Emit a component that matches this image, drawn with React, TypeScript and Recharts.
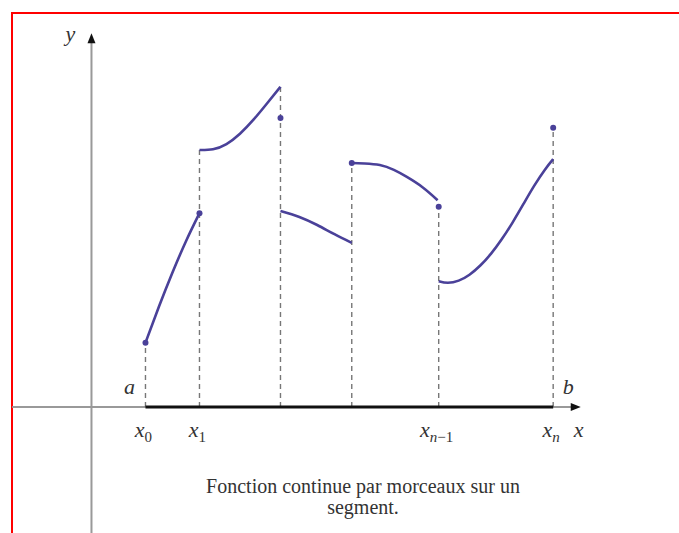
import React from "react";
import {
  ComposedChart,
  Line,
  Scatter,
  XAxis,
  YAxis,
  ReferenceLine,
  ReferenceDot,
} from "recharts";

// plot window in math units (origin sits where the axes cross)
const X_DOMAIN: [number, number] = [-1.694, 10.88];
const Y_DOMAIN: [number, number] = [-2.333, 7.537];

// pieces of the function
const seg1 = [
  { x: 1.0, y: 1.19 },
  { x: 1.25, y: 1.86 },
  { x: 1.5, y: 2.49 },
  { x: 1.75, y: 3.07 },
  { x: 2.0, y: 3.59 },
];
const seg2 = [
  { x: 2.0, y: 4.76 },
  { x: 2.25, y: 4.774 },
  { x: 2.5, y: 4.87 },
  { x: 2.75, y: 5.06 },
  { x: 3.0, y: 5.32 },
  { x: 3.25, y: 5.62 },
  { x: 3.5, y: 5.93 },
];
const seg3 = [
  { x: 3.5, y: 3.63 },
  { x: 3.85, y: 3.52 },
  { x: 4.18, y: 3.37 },
  { x: 4.5, y: 3.2 },
  { x: 4.82, y: 3.04 },
];
const seg4 = [
  { x: 4.82, y: 4.52 },
  { x: 5.06, y: 4.51 },
  { x: 5.34, y: 4.48 },
  { x: 5.6, y: 4.39 },
  { x: 5.84, y: 4.26 },
  { x: 6.13, y: 4.07 },
  { x: 6.41, y: 3.83 },
];
const seg5 = [
  { x: 6.43, y: 2.33 },
  { x: 6.6, y: 2.3 },
  { x: 6.8, y: 2.34 },
  { x: 7.0, y: 2.45 },
  { x: 7.2, y: 2.62 },
  { x: 7.4, y: 2.84 },
  { x: 7.6, y: 3.11 },
  { x: 7.8, y: 3.42 },
  { x: 8.0, y: 3.76 },
  { x: 8.2, y: 4.1 },
  { x: 8.4, y: 4.4 },
  { x: 8.55, y: 4.59 },
];
const segments = [seg1, seg2, seg3, seg4, seg5];

// filled points (endpoint values)
const dots = [
  { x: 1.0, y: 1.19 },
  { x: 2.0, y: 3.59 },
  { x: 3.5, y: 5.35 },
  { x: 4.82, y: 4.52 },
  { x: 6.43, y: 3.71 },
  { x: 8.55, y: 5.17 },
];

// subdivision points and height of their dashed guide
const breaks = [1.0, 2.0, 3.5, 4.82, 6.43, 8.55];
const guideTops = [1.19, 4.76, 5.93, 4.52, 3.71, 5.17];

// x tick labels: subscript parts (italic / upright)
const tickLabels = [
  { x: 1.0, subItalic: "", subUpright: "0" },
  { x: 2.0, subItalic: "", subUpright: "1" },
  { x: 6.43, subItalic: "n", subUpright: "−1" },
  { x: 8.55, subItalic: "n", subUpright: "" },
];

const A = 1.0;
const B = 8.55;
const X_AXIS: [number, number] = [-1.47, 9.0];
const Y_AXIS: [number, number] = [-2.333, 6.8];
const X_TIP = 9.06;
const Y_TIP = 6.92;

const CURVE = "#4a4199";
const SERIF = "'Liberation Serif', 'DejaVu Serif', serif";

const Dot = (props: any) => (
  <circle cx={props.cx} cy={props.cy} r={3} fill={CURVE} />
);

const ArrowRight = (props: any) => (
  <polygon
    points={`${props.cx},${props.cy} ${props.cx - 10},${props.cy - 4} ${props.cx - 10},${props.cy + 4}`}
    fill="#111"
  />
);

const ArrowUp = (props: any) => (
  <polygon
    points={`${props.cx},${props.cy} ${props.cx - 4},${props.cy + 10} ${props.cx + 4},${props.cy + 10}`}
    fill="#111"
  />
);

const italicText = (label: string, dx: number, dy: number) => (props: any) => (
  <text
    x={props.cx + dx}
    y={props.cy + dy}
    textAnchor="middle"
    fontFamily={SERIF}
    fontStyle="italic"
    fontSize={22}
    fill="#333"
  >
    {label}
  </text>
);

const tickText = (t: (typeof tickLabels)[number]) => (props: any) => (
  <text
    x={props.cx - 2}
    y={props.cy + 30}
    textAnchor="middle"
    fontFamily={SERIF}
    fontSize={22}
    fill="#333"
  >
    <tspan fontStyle="italic">x</tspan>
    {t.subItalic && (
      <tspan fontStyle="italic" fontSize={15} dy={5}>
        {t.subItalic}
      </tspan>
    )}
    {t.subUpright && (
      <tspan fontSize={15} dy={t.subItalic ? 0 : 5}>
        {t.subUpright}
      </tspan>
    )}
  </text>
);

export default function App() {
  return (
    <div
      style={{
        position: "absolute",
        left: 0,
        top: 0,
        width: 679,
        height: 533,
        overflow: "hidden",
        background: "#fff",
      }}
    >
      <div
        style={{
          position: "absolute",
          left: 11,
          top: 12,
          width: 700,
          height: 600,
          borderTop: "2px solid #f00",
          borderLeft: "2px solid #f00",
        }}
      />
      <div style={{ position: "absolute", left: 0, top: 0 }}>
        <ComposedChart
          width={679}
          height={533}
          margin={{ top: 0, right: 0, bottom: 0, left: 0 }}
        >
          <XAxis
            hide
            type="number"
            dataKey="x"
            domain={X_DOMAIN}
            allowDataOverflow
          />
          <YAxis
            hide
            type="number"
            dataKey="y"
            domain={Y_DOMAIN}
            allowDataOverflow
          />

          {/* axes */}
          <ReferenceLine
            segment={[
              { x: X_AXIS[0], y: 0 },
              { x: X_AXIS[1], y: 0 },
            ]}
            stroke="#999"
            strokeWidth={2}
            ifOverflow="visible"
          />
          <ReferenceLine
            segment={[
              { x: 0, y: Y_AXIS[0] },
              { x: 0, y: Y_AXIS[1] },
            ]}
            stroke="#999"
            strokeWidth={2}
            ifOverflow="visible"
          />

          {/* dashed guides */}
          {breaks.map((bx, i) => (
            <ReferenceLine
              key={"g" + i}
              segment={[
                { x: bx, y: 0 },
                { x: bx, y: guideTops[i] },
              ]}
              stroke="#777"
              strokeWidth={1.4}
              strokeDasharray="5 4"
            />
          ))}

          {/* the segment [a, b] */}
          <ReferenceLine
            segment={[
              { x: A, y: 0 },
              { x: B, y: 0 },
            ]}
            stroke="#111"
            strokeWidth={3}
          />

          <ReferenceDot x={X_TIP} y={0} shape={ArrowRight} ifOverflow="visible" />
          <ReferenceDot x={0} y={Y_TIP} shape={ArrowUp} ifOverflow="visible" />

          {segments.map((seg, i) => (
            <Line
              key={"s" + i}
              data={seg}
              dataKey="y"
              type="natural"
              stroke={CURVE}
              strokeWidth={2.6}
              dot={false}
              activeDot={false}
              isAnimationActive={false}
            />
          ))}

          <Scatter
            data={dots}
            dataKey="y"
            shape={Dot}
            isAnimationActive={false}
          />

          {/* labels */}
          <ReferenceDot x={0} y={Y_TIP} shape={italicText("y", -21, 8)} ifOverflow="visible" />
          <ReferenceDot x={X_TIP} y={0} shape={italicText("x", -2, 30)} ifOverflow="visible" />
          <ReferenceDot x={A} y={0} shape={italicText("a", -16, -13)} ifOverflow="visible" />
          <ReferenceDot x={B} y={0} shape={italicText("b", 15, -13)} ifOverflow="visible" />
          {tickLabels.map((t, i) => (
            <ReferenceDot
              key={"t" + i}
              x={t.x}
              y={0}
              shape={tickText(t)}
              ifOverflow="visible"
            />
          ))}
        </ComposedChart>
      </div>
      <div
        style={{
          position: "absolute",
          left: 0,
          width: 726,
          top: 476,
          textAlign: "center",
          fontFamily: SERIF,
          fontSize: 20,
          lineHeight: "21px",
          color: "#333",
        }}
      >
        Fonction continue par morceaux sur un
        <br />
        segment.
      </div>
    </div>
  );
}
